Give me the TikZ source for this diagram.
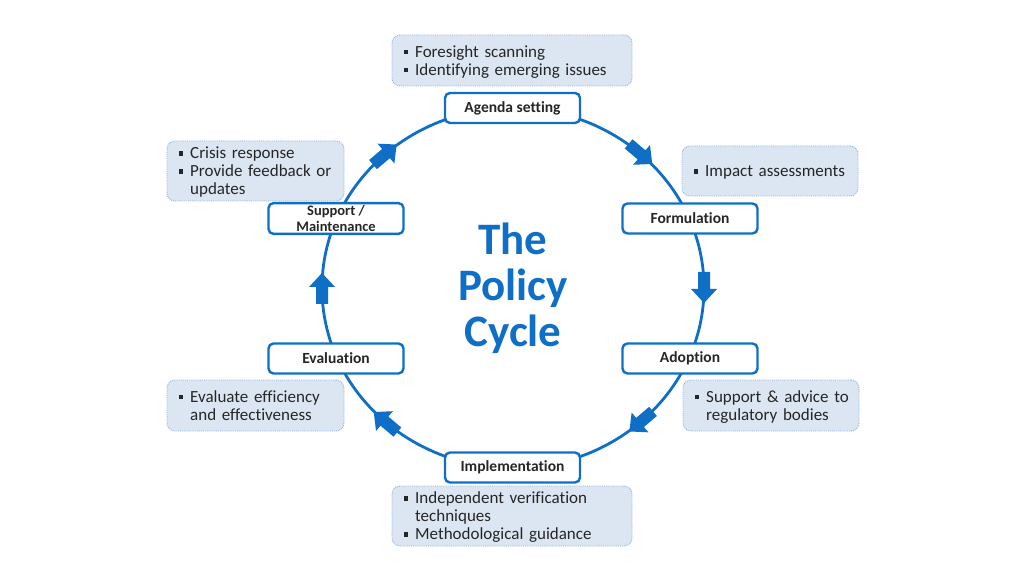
\documentclass[tikz,border=0pt]{standalone}
\usepackage{fontspec}
\setmainfont{Carlito}[Ligatures=NoCommon, WordSpace={0.6,0.3,0.3}]
\newfontfamily\stagefont{Carlito}[Ligatures=NoCommon]
\definecolor{cblue}{HTML}{0F6FC6}
\definecolor{infofill}{HTML}{DCE6F2}
\definecolor{infoline}{HTML}{8EB4E3}
\definecolor{txt}{HTML}{262626}
\newcommand{\bul}{\raisebox{3pt}{\rule{4.2pt}{4.2pt}}}
\newcommand{\blist}[1]{\raisebox{-2pt}[\height][\depth]{\begin{tabular}{@{}l@{\hspace{7pt}}l@{}}#1\end{tabular}}}
\begin{document}
\begin{tikzpicture}[x=1pt,y=1pt,
  stage/.style={draw=cblue, line width=2.4pt, fill=white, rounded corners=5pt,
    minimum width=135pt, minimum height=30pt, inner sep=2pt, align=center,
    font=\stagefont\fontsize{15.5}{16}\selectfont\bfseries, text=txt},
  info/.style={draw=infoline, densely dotted, line width=0.9pt, fill=infofill,
    rounded corners=8pt, inner xsep=12pt, inner ysep=3pt, align=left,
    font=\fontsize{17}{18}\selectfont, text=txt},
]
\useasboundingbox (0,0) rectangle (1024,576);
\fill[white] (0,0) rectangle (1024,576);
% cycle
\draw[cblue, line width=2.8pt] (513,288) ellipse [x radius=191, y radius=180];
\foreach \t in {48,0,-48,-132,180,132}{
  \pgfmathsetmacro{\ang}{atan2(-180*cos(\t),191*sin(\t))}
  \fill[cblue, shift={({513+191*cos(\t)},{288+180*sin(\t)})}, rotate=\ang]
    (-16,-6) -- (1,-6) -- (1,-13) -- (15,0) -- (1,13) -- (1,6) -- (-16,6) -- cycle;
}
% stages
\node[stage] (agenda) at (512.5,468) {Agenda setting};
\node[stage] (form) at (690,357.5) {Formulation};
\node[stage] (adopt) at (690,217.5) {Adoption};
\node[stage] (impl) at (512.5,108.5) {Implementation};
\node[stage] (eval) at (336,217.5) {Evaluation};
\node[stage, font=\stagefont\fontsize{14.5}{16.5}\selectfont\bfseries] (supp) at (336,357.5) {Support /\\Maintenance};
% info boxes
\node[info, text width=216pt, minimum height=51pt] (iagenda) at (512,515.5)
  {\blist{\bul & Foresight scanning\\ \bul & Identifying emerging issues}};
\node[info, text width=152pt, minimum height=50pt] (iform) at (770,405)
  {\blist{\bul & Impact assessments}};
\node[info, text width=152pt, minimum height=51pt] (iadopt) at (771,170.5)
  {\blist{\bul & Support \& advice to\\ & regulatory bodies}};
\node[info, text width=216pt, minimum height=52pt] (iimpl) at (512,60)
  {\blist{\bul & Independent verification\\ & techniques\\ \bul & Methodological guidance}};
\node[info, text width=153pt, minimum height=51pt] (ieval) at (255.5,170.5)
  {\blist{\bul & Evaluate efficiency\\ & and effectiveness}};
\node[info, text width=153pt, minimum height=50pt] (isupp) at (255.5,405)
  {\blist{\bul & Crisis response\\ \bul & Provide feedback or\\ & updates}};
% title
\node[text=cblue, align=center, font=\stagefont\fontsize{45}{46}\selectfont\bfseries] (title) at (513,288) {The\\Policy\\Cycle};
\end{tikzpicture}
\end{document}
